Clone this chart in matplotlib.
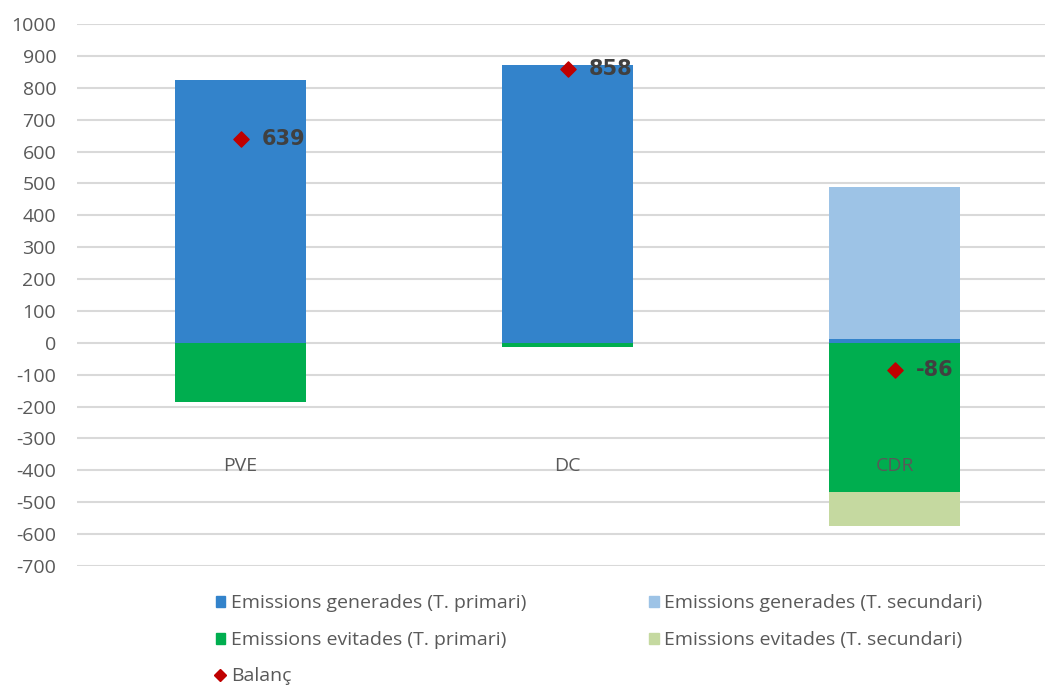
import matplotlib.pyplot as plt
from matplotlib.patches import Patch
from matplotlib.lines import Line2D
import numpy as np

plt.rcParams['font.family'] = ['Open Sans', 'DejaVu Sans']
plt.rcParams['axes.unicode_minus'] = False

categories = ['PVE', 'DC', 'CDR']
gen_primary = [824, 871, 12]
gen_secondary = [0, 0, 477]
avoid_primary = [-185, -13, -467]
avoid_secondary = [0, 0, -108]
balance = [639, 858, -86]

c_gen1 = '#3383CB'
c_gen2 = '#9DC3E6'
c_av1 = '#00AE4F'
c_av2 = '#C5D9A0'
c_bal = '#C00000'
grey = '#595959'

fig = plt.figure(figsize=(10.45, 6.87), dpi=100)
ax = fig.add_axes([77 / 1045, 1 - 566 / 687, 1 - 77 / 1045, (566 - 24) / 687])

x = np.arange(len(categories))
w = 0.4
ax.bar(x, gen_primary, w, color=c_gen1, zorder=2)
ax.bar(x, gen_secondary, w, bottom=gen_primary, color=c_gen2, zorder=2)
ax.bar(x, avoid_primary, w, color=c_av1, zorder=2)
ax.bar(x, avoid_secondary, w, bottom=avoid_primary, color=c_av2, zorder=2)
ax.scatter(x, balance, marker='D', s=60, color=c_bal, zorder=3)

for xi, b in zip(x, balance):
    ax.annotate(f'{b}', (xi, b), xytext=(15, 0), textcoords='offset points',
                va='center', ha='left', fontsize=15, fontweight='bold',
                color='#404040', family=['DejaVu Sans'], zorder=4)

for xi, cat in zip(x, categories):
    ax.text(xi, -385, cat, ha='center', va='center', fontsize=14, color=grey, zorder=4)

ax.set_ylim(-700, 1000)
ax.set_xlim(-0.5, 2.46)
ax.set_yticks(np.arange(-700, 1001, 100))
ax.tick_params(axis='y', length=0, labelsize=14, labelcolor=grey, pad=15)
ax.set_xticks([])
ax.yaxis.grid(True, color='#D9D9D9', linewidth=1.5, zorder=0)
ax.set_axisbelow(True)
for s in ax.spines.values():
    s.set_visible(False)

handles = [
    Patch(color=c_gen1, label='Emissions generades (T. primari)'),
    Patch(color=c_gen2, label='Emissions generades (T. secundari)'),
    Patch(color=c_av1, label='Emissions evitades (T. primari)'),
    Patch(color=c_av2, label='Emissions evitades (T. secundari)'),
    Line2D([], [], marker='D', color=c_bal, linestyle='none', markersize=6, label='Balanç'),
]
order = [0, 2, 4, 1, 3]
leg = fig.legend([handles[i] for i in order], [handles[i].get_label() for i in order],
                 ncol=2, loc='upper left', bbox_to_anchor=(198 / 1045, 1 - 577 / 687),
                 frameon=False, fontsize=14, handlelength=0.5, handleheight=0.5,
                 handletextpad=0.3, columnspacing=6.3, labelspacing=0.95,
                 labelcolor=grey)

fig.savefig('out.png', dpi=100)
